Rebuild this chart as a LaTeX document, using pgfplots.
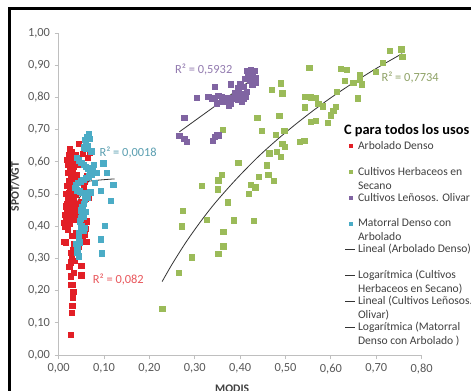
\documentclass[border=0pt]{standalone}
\usepackage{pgfplots}
\pgfplotsset{compat=1.18}
\usepackage{fontspec}
\setmainfont{Carlito}
\definecolor{cRed}{HTML}{E21F26}
\definecolor{cGreen}{HTML}{9BBB59}
\definecolor{cPurple}{HTML}{8064A2}
\definecolor{cCyan}{HTML}{4BACC6}
\definecolor{txt}{HTML}{404040}
\definecolor{tickc}{HTML}{595959}
\definecolor{axgray}{HTML}{BFBFBF}
\newcommand{\two}[2]{\smash{\begin{tabular}[t]{@{}l@{}}#1\\#2\end{tabular}}}

\pgfplotstableread{
x y
0.027 0.062
0.029 0.132
0.030 0.152
0.031 0.177
0.032 0.197
0.026 0.218
0.031 0.218
0.027 0.245
0.034 0.255
0.050 0.248
0.023 0.274
0.050 0.278
0.027 0.288
0.035 0.292
0.029 0.305
0.027 0.318
0.031 0.325
0.040 0.330
0.045 0.338
0.034 0.345
0.011 0.352
0.016 0.350
0.061 0.352
0.047 0.365
0.030 0.370
0.038 0.380
0.020 0.388
0.014 0.398
0.018 0.402
0.011 0.410
0.024 0.408
0.016 0.418
0.021 0.425
0.030 0.428
0.038 0.432
0.013 0.436
0.026 0.440
0.019 0.445
0.034 0.448
0.042 0.442
0.045 0.458
0.022 0.455
0.017 0.462
0.028 0.468
0.024 0.476
0.033 0.480
0.020 0.487
0.027 0.494
0.038 0.497
0.022 0.503
0.031 0.510
0.025 0.518
0.019 0.525
0.035 0.528
0.028 0.535
0.022 0.542
0.032 0.548
0.026 0.556
0.040 0.560
0.020 0.565
0.030 0.572
0.024 0.580
0.034 0.585
0.021 0.592
0.027 0.600
0.018 0.606
0.025 0.612
0.031 0.605
0.022 0.620
0.024 0.640
0.044 0.655
0.035 0.598
0.050 0.400
0.057 0.410
0.062 0.415
0.052 0.425
0.048 0.475
0.060 0.485
0.066 0.490
0.055 0.520
0.062 0.555
0.068 0.565
0.058 0.540
0.064 0.612
0.068 0.630
0.053 0.625
0.047 0.590
0.045 0.545
0.042 0.510
0.040 0.470
0.057 0.375
0.052 0.360
0.059 0.392
0.015 0.430
0.018 0.470
0.016 0.500
0.036 0.460
0.033 0.420
0.037 0.620
0.029 0.630
}\redtab

\pgfplotstableread{
x y
0.228 0.143
0.264 0.256
0.293 0.304
0.272 0.400
0.273 0.448
0.316 0.526
0.327 0.419
0.352 0.314
0.363 0.338
0.363 0.383
0.350 0.515
0.352 0.543
0.359 0.559
0.372 0.474
0.386 0.418
0.396 0.598
0.419 0.500
0.424 0.529
0.433 0.521
0.430 0.416
0.441 0.554
0.458 0.589
0.462 0.559
0.474 0.541
0.464 0.626
0.480 0.631
0.489 0.616
0.361 0.699
0.438 0.737
0.448 0.697
0.469 0.823
0.489 0.844
0.493 0.813
0.486 0.742
0.479 0.683
0.497 0.696
0.493 0.657
0.498 0.647
0.532 0.662
0.552 0.892
0.542 0.802
0.542 0.769
0.567 0.799
0.572 0.781
0.555 0.725
0.566 0.727
0.593 0.721
0.600 0.745
0.611 0.771
0.621 0.888
0.635 0.885
0.630 0.851
0.755 0.949
0.757 0.926
0.729 0.944
0.715 0.908
0.699 0.880
0.664 0.871
0.664 0.856
0.668 0.841
0.649 0.846
0.659 0.797
0.613 0.818
0.541 0.665
0.605 0.758
0.555 0.800
0.582 0.772
}\greentab

\pgfplotstableread{
x y
0.266 0.680
0.277 0.672
0.282 0.663
0.277 0.736
0.304 0.799
0.330 0.802
0.337 0.797
0.344 0.799
0.344 0.833
0.348 0.782
0.352 0.805
0.359 0.802
0.363 0.787
0.370 0.797
0.375 0.776
0.378 0.782
0.380 0.841
0.385 0.797
0.389 0.813
0.392 0.810
0.394 0.792
0.396 0.828
0.400 0.841
0.400 0.810
0.403 0.787
0.407 0.833
0.407 0.797
0.411 0.802
0.411 0.857
0.414 0.818
0.414 0.882
0.418 0.870
0.422 0.852
0.424 0.885
0.427 0.872
0.427 0.839
0.431 0.883
0.433 0.846
0.434 0.860
0.340 0.665
0.344 0.677
0.348 0.684
0.352 0.682
}\purpletab

\pgfplotstableread{
x y
0.058 0.668
0.062 0.677
0.066 0.686
0.060 0.660
0.064 0.650
0.068 0.672
0.056 0.645
0.072 0.633
0.061 0.640
0.098 0.595
0.106 0.566
0.120 0.528
0.093 0.510
0.115 0.479
0.102 0.401
0.093 0.359
0.095 0.316
0.083 0.566
0.079 0.535
0.078 0.590
0.040 0.612
0.045 0.605
0.050 0.598
0.055 0.590
0.060 0.585
0.065 0.580
0.070 0.575
0.075 0.580
0.072 0.560
0.066 0.555
0.060 0.550
0.054 0.545
0.048 0.540
0.042 0.535
0.038 0.528
0.036 0.520
0.040 0.512
0.046 0.508
0.052 0.504
0.058 0.500
0.064 0.502
0.070 0.505
0.064 0.490
0.058 0.482
0.055 0.470
0.052 0.460
0.050 0.450
0.052 0.440
0.056 0.430
0.060 0.445
0.048 0.425
0.046 0.415
0.050 0.400
0.055 0.385
0.058 0.395
0.049 0.390
0.045 0.380
0.044 0.360
0.041 0.334
0.041 0.319
0.044 0.307
0.038 0.345
0.047 0.350
}\cyantab

\begin{document}
\begin{tikzpicture}[x=1pt,y=1pt]
\useasboundingbox (0,0) rectangle (353.25,292.5);
\fill[white] (0,0) rectangle (353.25,292.5);
\begin{axis}[
  at={(44.0pt,26.25pt)}, anchor=south west,
  scale only axis, width=272.25pt, height=241.5pt,
  xmin=0, xmax=0.8, ymin=0, ymax=1,
  xtick={0,0.1,0.2,0.3,0.4,0.5,0.6,0.7,0.8},
  ytick={0,0.1,0.2,0.3,0.4,0.5,0.6,0.7,0.8,0.9,1},
  axis lines=left,
  axis line style={draw=axgray, line width=0.75pt, -},
  tick align=outside, major tick length=3pt,
  tick style={draw=axgray, line width=0.75pt},
  tick label style={font=\fontsize{9.3}{11}\selectfont, text=tickc,
    /pgf/number format/fixed, /pgf/number format/fixed zerofill,
    /pgf/number format/precision=2, /pgf/number format/use comma,
    /pgf/number format/assume math mode=true},
  xlabel={MODIS}, ylabel={SPOT/VGT},
  xlabel style={font=\fontsize{8.7}{10}\selectfont\bfseries, text=txt,
    at={(axis description cs:0.478,-0.1056)}, anchor=center},
  ylabel style={font=\fontsize{8.7}{10}\selectfont\bfseries, text=txt,
    at={(axis description cs:-0.1204,0.5227)}, anchor=center},
  clip=false,
  legend image code/.code={\draw[#1, mark size=1.1pt, mark repeat=2, mark phase=2] plot coordinates {(0pt,0pt) (3.75pt,0pt) (7.5pt,0pt)};},
  legend style={at={(axis description cs:0.7887,0.7696)}, anchor=north west,
    draw=none, fill=none, inner sep=0pt, outer sep=0pt, row sep=0pt, column sep=1.7pt,
    font=\fontsize{8.7}{10.5}\selectfont, text=txt,
    nodes={inner sep=0pt, outer sep=0pt, text height=12.2pt, text depth=7.2pt}},
  legend cell align=left,
]
\addlegendimage{empty legend}
\addlegendentry{\hspace*{-10.5pt}\raisebox{-8.4pt}{\fontsize{10.8}{13}\selectfont\bfseries\color{black}C para todos los usos}}

\addplot[only marks, mark=square*, mark size=2pt, mark options={draw=none, fill=cRed}, color=cRed] table[x=x,y=y] {\redtab};
\addlegendentry{Arbolado Denso}
\addplot[only marks, mark=square*, mark size=2pt, mark options={draw=none, fill=cGreen}, color=cGreen] table[x=x,y=y] {\greentab};
\addlegendentry{\two{Cultivos Herbaceos en}{Secano}}
\addplot[only marks, mark=square*, mark size=2pt, mark options={draw=none, fill=cPurple}, color=cPurple] table[x=x,y=y] {\purpletab};
\addlegendentry{Cultivos Leñosos. Olivar}
\addplot[only marks, mark=square*, mark size=2pt, mark options={draw=none, fill=cCyan}, color=cCyan] table[x=x,y=y] {\cyantab};
\addlegendentry{\two{Matorral Denso con}{Arbolado}}

\addplot[no marks, draw=black!80, line width=0.6pt] coordinates {(0.011,0.398) (0.068,0.545)};
\addlegendentry{Lineal (Arbolado Denso)}
\addplot[no marks, draw=black!80, line width=0.6pt, smooth] coordinates {
(0.228,0.228) (0.25,0.282) (0.28,0.349) (0.31,0.409) (0.34,0.464) (0.37,0.513)
(0.40,0.559) (0.44,0.616) (0.48,0.667) (0.52,0.714) (0.56,0.758) (0.60,0.799)
(0.65,0.846) (0.70,0.890) (0.757,0.936)};
\addlegendentry{\two{Logarítmica (Cultivos}{Herbaceos en Secano)}}
\addplot[no marks, draw=black!80, line width=0.6pt] coordinates {(0.266,0.693) (0.436,0.866)};
\addlegendentry{\two{Lineal (Cultivos Leñosos.}{Olivar)}}
\addplot[no marks, draw=black!80, line width=0.6pt, smooth] coordinates {
(0.034,0.532) (0.05,0.5365) (0.07,0.5404) (0.09,0.5434) (0.123,0.547)};
\addlegendentry{\two{Logarítmica (Matorral}{Denso con Arbolado )}}

\node[anchor=west, inner sep=0pt, text=cPurple!85, font=\fontsize{9.3}{11}\selectfont] at (axis cs:0.256,0.888) {R² = 0,5932};
\node[anchor=west, inner sep=0pt, text=cGreen!60!gray, font=\fontsize{9.3}{11}\selectfont] at (axis cs:0.711,0.862) {R² = 0,7734};
\node[anchor=west, inner sep=0pt, text=cCyan!70!gray, font=\fontsize{9.3}{11}\selectfont] at (axis cs:0.0895,0.629) {R² = 0,0018};
\node[anchor=west, inner sep=0pt, text=cRed!75, font=\fontsize{9.3}{11}\selectfont] at (axis cs:0.0747,0.235) {R² = 0,082};
\end{axis}
\draw[line width=2.6pt, black] (7.1,-5) -- (7.1,286.3) -- (360,286.3);
\end{tikzpicture}
\end{document}
